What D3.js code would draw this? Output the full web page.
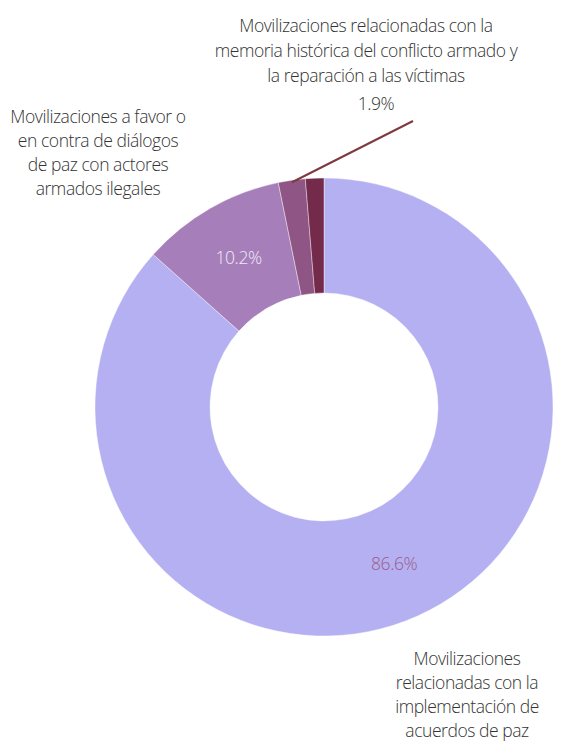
<!DOCTYPE html>
<html>
<head>
<meta charset="utf-8">
<script src="https://cdn.jsdelivr.net/npm/d3@7"></script>
<style>
  body { margin: 0; background: #fff; }
  text { font-family: "Open Sans", sans-serif; font-weight: 300; }
</style>
</head>
<body>
<svg id="chart"></svg>
<script>
// Data (clockwise from 12 o'clock)
const categories = [
    "Movilizaciones relacionadas con la implementación de acuerdos de paz",
    "Movilizaciones a favor o en contra de diálogos de paz con actores armados ilegales",
    "Movilizaciones relacionadas con la memoria histórica del conflicto armado y la reparación a las víctimas",
    "Otras"
];
const values = [86.6, 10.2, 1.9, 1.3];
const valueLabels = ["86.6%", "10.2%", "1.9%", ""];
const colors = ["#b5b0f2", "#a67fba", "#8f5584", "#742a4b"];

const width = 588, height = 741;
const cx = 324, cy = 407;
const outerR = 229, innerR = 114;

const svg = d3.select("#chart")
    .attr("width", width)
    .attr("height", height);

const g = svg.append("g")
    .attr("transform", `translate(${cx},${cy})`);

const data = values.map((v, i) => ({ name: categories[i], value: v, label: valueLabels[i], color: colors[i] }));

const pie = d3.pie()
    .sort(null)
    .value(d => d.value);

const arc = d3.arc()
    .innerRadius(innerR)
    .outerRadius(outerR);

const arcs = pie(data);

g.selectAll("path.slice")
    .data(arcs)
    .join("path")
    .attr("class", "slice")
    .attr("d", arc)
    .attr("fill", d => d.data.color)
    .attr("stroke", "#fff")
    .attr("stroke-width", 0.4);

// value labels inside the big slices
const innerLabelColor = ["#9a5d8c", "#f1eaf6"];
g.selectAll("text.val")
    .data(arcs.slice(0, 2))
    .join("text")
    .attr("class", "val")
    .attr("transform", d => `translate(${arc.centroid(d)})`)
    .attr("text-anchor", "middle")
    .attr("dy", "0.35em")
    .attr("font-size", 17.5)
    .attr("letter-spacing", -0.4)
    .attr("fill", (d, i) => innerLabelColor[i])
    .text(d => d.data.label);

// leader line for the small slice
const edgeArc = d3.arc().innerRadius(outerR - 2).outerRadius(outerR - 2);
const small = arcs[2];
const p0 = edgeArc.centroid(small);
g.append("line")
    .attr("x1", p0[0]).attr("y1", p0[1])
    .attr("x2", 413 - cx).attr("y2", 121 - cy)
    .attr("stroke", "#7d3a3f")
    .attr("stroke-width", 2);

// category labels
const textColor = "#333";
function block(lines, x, y0, step) {
    const t = svg.append("text")
        .attr("text-anchor", "middle")
        .attr("font-size", 17.5)
        .attr("letter-spacing", -0.45)
        .attr("fill", textColor);
    lines.forEach((l, i) => {
        t.append("tspan").attr("x", x).attr("y", y0 + i * step).text(l);
    });
}

block(["Movilizaciones relacionadas con la",
       "memoria histórica del conflicto armado y",
       "la reparación a las víctimas"], 366, 32, 25);
svg.append("text")
    .attr("x", 376).attr("y", 110)
    .attr("text-anchor", "middle")
    .attr("font-size", 17.5)
    .attr("letter-spacing", -0.4)
    .attr("fill", textColor)
    .text(valueLabels[2]);

block(["Movilizaciones a favor o",
       "en contra de diálogos",
       "de paz con actores",
       "armados ilegales"], 98, 123, 24);

block(["Movilizaciones",
       "relacionadas con la",
       "implementación de",
       "acuerdos de paz"], 467, 665, 24);
</script>
</body>
</html>
